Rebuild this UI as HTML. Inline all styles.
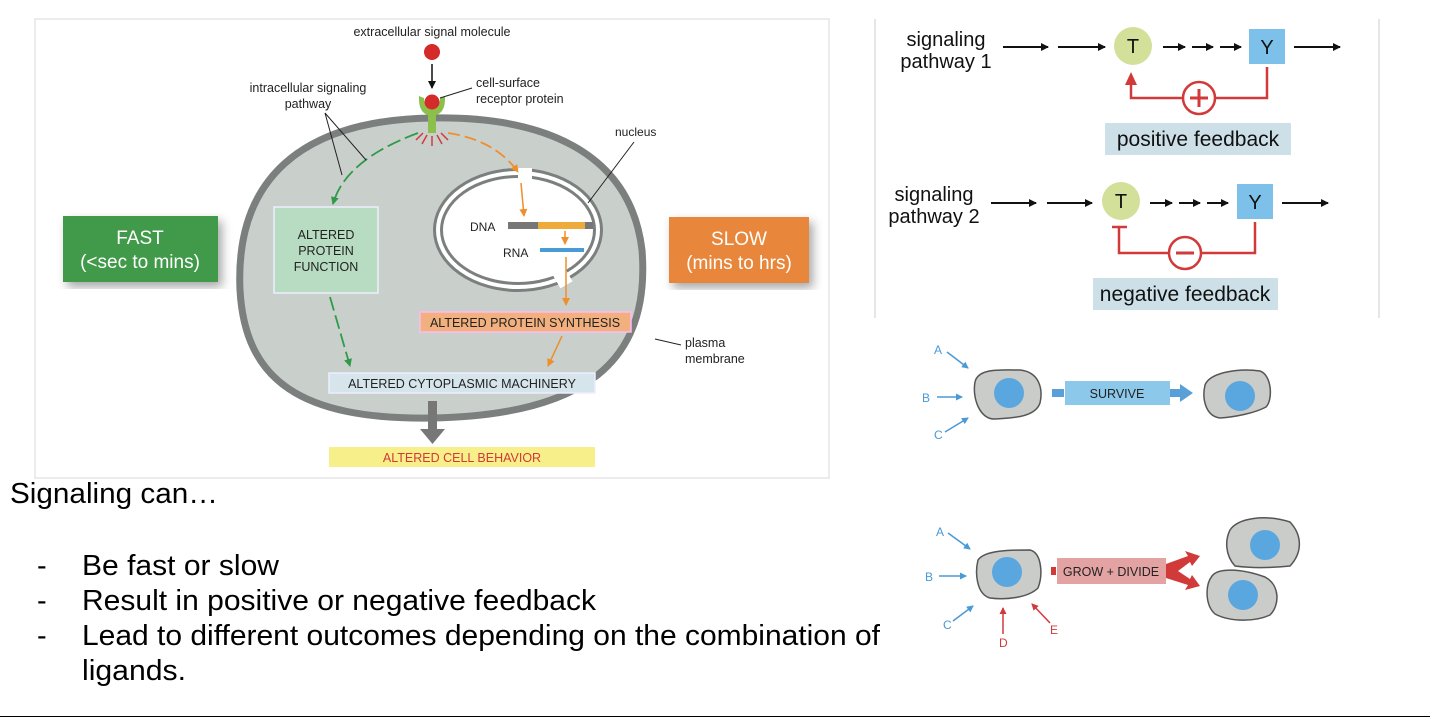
<!DOCTYPE html>
<html><head><meta charset="utf-8"><style>
body{margin:0;width:1430px;height:718px;background:#fff;overflow:hidden;font-family:"Liberation Sans",sans-serif}
svg{position:absolute;left:0;top:0}
</style></head><body>
<svg width="1430" height="718" viewBox="0 0 1430 718" font-family="Liberation Sans, sans-serif">
<defs>
<marker id="ab" markerWidth="8" markerHeight="8" refX="7" refY="4" orient="auto" markerUnits="userSpaceOnUse"><path d="M0,0L8,4L0,8z" fill="#111"/></marker>
<marker id="ag" markerWidth="8" markerHeight="8" refX="7" refY="4" orient="auto" markerUnits="userSpaceOnUse"><path d="M0,0L8,4L0,8z" fill="#2f9a48"/></marker>
<marker id="ao" markerWidth="8" markerHeight="8" refX="7" refY="4" orient="auto" markerUnits="userSpaceOnUse"><path d="M0,0L8,4L0,8z" fill="#ee8f2e"/></marker>
<marker id="abl" markerWidth="7" markerHeight="7" refX="6" refY="3.5" orient="auto" markerUnits="userSpaceOnUse"><path d="M0,0L7,3.5L0,7z" fill="#4a9ad6"/></marker>
<marker id="ar" markerWidth="7" markerHeight="7" refX="6" refY="3.5" orient="auto" markerUnits="userSpaceOnUse"><path d="M0,0L7,3.5L0,7z" fill="#d23a3a"/></marker>
<filter id="sh"><feDropShadow dx="4" dy="5" stdDeviation="5" flood-color="#000" flood-opacity="0.35"/></filter>
</defs>
<rect x="35" y="19" width="794" height="459" fill="none" stroke="#d8d8d8"/>
<path d="M432,118 C540,116 630,150 642,250 C650,350 600,415 432,418 C300,420 245,380 240,290 C235,180 300,120 432,118 Z" fill="#c9d0cc" stroke="#7b7f7e" stroke-width="7"/>
<ellipse cx="518" cy="230" rx="80" ry="57" fill="#fff"/>
<ellipse cx="518" cy="230" rx="80" ry="57" fill="none" stroke="#7b7f7e" stroke-width="10"/>
<ellipse cx="518" cy="230" rx="80" ry="57" fill="none" stroke="#fff" stroke-width="4"/>
<rect x="518" y="168" width="14" height="12" fill="#fff"/>
<rect x="555" y="268" width="14" height="18" fill="#fff" transform="rotate(-30 562 277)"/>
<line x1="588" y1="203" x2="634" y2="142" stroke="#222"/>
<text x="615" y="136" font-size="12" fill="#222">nucleus</text>
<text x="470" y="231" font-size="12" fill="#222">DNA</text>
<rect x="508" y="222" width="85" height="7" fill="#777"/><rect x="538" y="222" width="47" height="7" fill="#eeaa3a"/>
<text x="503" y="257" font-size="12" fill="#222">RNA</text>
<rect x="540" y="248" width="44" height="4" fill="#4a9ad6"/>
<line x1="565" y1="231" x2="565" y2="244" stroke="#ee8f2e" stroke-width="1.5" marker-end="url(#ao)"/>
<line x1="521" y1="183" x2="524" y2="216" stroke="#ee8f2e" stroke-width="1.5" marker-end="url(#ao)"/>
<line x1="566" y1="257" x2="566" y2="305" stroke="#ee8f2e" stroke-width="1.5" marker-end="url(#ao)"/>
<line x1="562" y1="336" x2="548" y2="366" stroke="#ee8f2e" stroke-width="1.5" marker-end="url(#ao)"/>
<path d="M448,133 Q495,140 518,172" fill="none" stroke="#ee8f2e" stroke-width="1.8" stroke-dasharray="12,5" marker-end="url(#ao)"/>
<path d="M418,133 Q345,160 333,204" fill="none" stroke="#2f9a48" stroke-width="1.8" stroke-dasharray="14,5" marker-end="url(#ag)"/>
<path d="M330,297 L350,366" fill="none" stroke="#2f9a48" stroke-width="1.8" stroke-dasharray="14,5" marker-end="url(#ag)"/>
<g stroke="#d23a3a" stroke-width="1.5"><line x1="432" y1="136" x2="432" y2="146"/><line x1="427" y1="135" x2="422" y2="144"/><line x1="437" y1="135" x2="442" y2="144"/><line x1="423" y1="133" x2="416" y2="140"/><line x1="441" y1="133" x2="448" y2="140"/></g>
<rect x="428" y="108" width="8" height="25" fill="#8cc04a"/>
<path d="M419,96 Q418,115 432,116 Q446,115 445,96 L440,98 Q440,108 432,108 Q424,108 424,98 Z" fill="#8cc04a"/>
<circle cx="432" cy="102" r="7.5" fill="#d42a2a"/>
<circle cx="432" cy="52" r="8" fill="#d42a2a"/>
<line x1="432" y1="64" x2="432" y2="88" stroke="#111" stroke-width="1.5" marker-end="url(#ab)"/>
<text x="432" y="36" font-size="12.5" fill="#222" text-anchor="middle">extracellular signal molecule</text>
<line x1="440" y1="98" x2="472" y2="88" stroke="#222"/>
<text x="476" y="87" font-size="12.5" fill="#222">cell-surface</text>
<text x="476" y="103" font-size="12.5" fill="#222">receptor protein</text>
<text x="308" y="92" font-size="12.5" fill="#222" text-anchor="middle">intracellular signaling</text>
<text x="308" y="108" font-size="12.5" fill="#222" text-anchor="middle">pathway</text>
<line x1="325" y1="113" x2="366" y2="160" stroke="#222"/><line x1="325" y1="113" x2="342" y2="175" stroke="#222"/>
<line x1="655" y1="339" x2="681" y2="345" stroke="#222"/>
<text x="685" y="347" font-size="12.5" fill="#222">plasma</text>
<text x="685" y="363" font-size="12.5" fill="#222">membrane</text>
<rect x="274" y="207" width="104" height="86" fill="#b7dcc2" stroke="#eef" stroke-width="1.5"/>
<text font-size="12.5" fill="#222" text-anchor="middle"><tspan x="326" y="239">ALTERED</tspan><tspan x="326" y="255">PROTEIN</tspan><tspan x="326" y="271">FUNCTION</tspan></text>
<rect x="420" y="312" width="211" height="20" fill="#f2b07e" stroke="#fbe" stroke-width="1.5"/>
<text x="525" y="327" font-size="12.5" fill="#222" text-anchor="middle">ALTERED PROTEIN SYNTHESIS</text>
<rect x="329" y="373" width="266" height="20" fill="#d6e4ec" stroke="#eef" stroke-width="1.5"/>
<text x="462" y="388" font-size="12.5" fill="#222" text-anchor="middle">ALTERED CYTOPLASMIC MACHINERY</text>
<rect x="428" y="401" width="9" height="30" fill="#777"/><path d="M420,429 L445,429 L432.5,444 Z" fill="#777"/>
<rect x="329" y="447" width="266" height="20" fill="#f7ef8a"/>
<text x="462" y="462" font-size="12.5" fill="#d23a3a" text-anchor="middle">ALTERED CELL BEHAVIOR</text>
<rect x="63" y="216" width="155" height="66" fill="#3f9a4a" filter="url(#sh)"/>
<text x="140" y="244" font-size="19" fill="#fff" text-anchor="middle">FAST</text>
<text x="140" y="268" font-size="19" fill="#fff" text-anchor="middle">(&lt;sec to mins)</text>
<rect x="669" y="217" width="140" height="66" fill="#e8873a" filter="url(#sh)"/>
<text x="739" y="245" font-size="19" fill="#fff" text-anchor="middle">SLOW</text>
<text x="739" y="269" font-size="19" fill="#fff" text-anchor="middle">(mins to hrs)</text>
<line x1="875" y1="19" x2="875" y2="318" stroke="#ccc"/><line x1="1379" y1="19" x2="1379" y2="318" stroke="#ccc"/>
<g font-size="20" fill="#111">
<text x="946" y="46" text-anchor="middle">signaling</text><text x="946" y="68" text-anchor="middle">pathway 1</text>
<text x="934" y="201" text-anchor="middle">signaling</text><text x="934" y="223" text-anchor="middle">pathway 2</text>
</g>
<g stroke="#111" stroke-width="2" marker-end="url(#ab)">
<line x1="1003" y1="47" x2="1048" y2="47"/><line x1="1058" y1="47" x2="1105" y2="47"/>
<line x1="1163" y1="47" x2="1185" y2="47"/><line x1="1192" y1="47" x2="1213" y2="47"/><line x1="1220" y1="47" x2="1241" y2="47"/>
<line x1="1294" y1="47" x2="1340" y2="47"/>
<line x1="991" y1="203" x2="1036" y2="203"/><line x1="1047" y1="203" x2="1092" y2="203"/>
<line x1="1150" y1="203" x2="1172" y2="203"/><line x1="1179" y1="203" x2="1200" y2="203"/><line x1="1207" y1="203" x2="1228" y2="203"/>
<line x1="1282" y1="203" x2="1328" y2="203"/>
</g>
<circle cx="1133" cy="46" r="19" fill="#d2e09a"/><text x="1133" y="53" font-size="20" text-anchor="middle" fill="#111">T</text>
<rect x="1249" y="29" width="36" height="35" fill="#7dc1ea"/><text x="1267" y="54" font-size="20" text-anchor="middle" fill="#111">Y</text>
<circle cx="1121" cy="201" r="19" fill="#d2e09a"/><text x="1121" y="208" font-size="20" text-anchor="middle" fill="#111">T</text>
<rect x="1237" y="184" width="36" height="35" fill="#7dc1ea"/><text x="1255" y="209" font-size="20" text-anchor="middle" fill="#111">Y</text>
<g stroke="#d23a3a" stroke-width="2.5" fill="none">
<path d="M1267,67 L1267,98 L1131,98 L1131,84"/>
<path d="M1255,222 L1255,253 L1119,253 L1119,227"/><line x1="1112" y1="227" x2="1127" y2="227"/>
</g>
<path d="M1125,85 L1137,85 L1131,72 Z" fill="#d23a3a"/>
<circle cx="1199" cy="98" r="16" fill="#fff" stroke="#d23a3a" stroke-width="2.5"/>
<path d="M1190,98 H1208 M1199,89 V107" stroke="#d23a3a" stroke-width="3"/>
<circle cx="1185" cy="253" r="16" fill="#fff" stroke="#d23a3a" stroke-width="2.5"/>
<path d="M1176,253 H1194" stroke="#d23a3a" stroke-width="3"/>
<rect x="1105" y="123" width="186" height="32" fill="#cde0e8"/><text x="1198" y="146" font-size="21" text-anchor="middle" fill="#111">positive feedback</text>
<rect x="1093" y="278" width="185" height="32" fill="#cde0e8"/><text x="1185" y="301" font-size="21" text-anchor="middle" fill="#111">negative feedback</text>
<g fill="#c9ccc9" stroke="#555" stroke-width="1.5">
<path d="M975,382 C978,368 1000,370 1020,370 C1040,372 1043,390 1040,403 C1035,418 1010,418 995,419 C980,420 972,398 975,382 Z"/>
<path d="M1205,385 C1210,372 1240,368 1260,371 C1272,375 1273,400 1266,407 C1255,413 1235,417 1220,418 C1205,416 1202,398 1205,385 Z"/>
<path d="M978,560 C985,550 1010,550 1030,550 C1042,553 1043,575 1038,588 C1028,598 1005,600 990,598 C976,594 975,572 978,560 Z"/>
<path d="M1230,530 C1238,518 1265,514 1290,522 C1302,535 1303,552 1290,566 C1270,568 1250,568 1235,566 C1225,555 1225,540 1230,530 Z"/>
<path d="M1212,576 C1218,568 1240,568 1265,577 C1280,585 1280,605 1270,615 C1255,622 1230,622 1215,614 C1205,605 1205,585 1212,576 Z"/>
</g>
<g fill="#5aa7e0"><circle cx="1009" cy="393" r="15"/><circle cx="1240" cy="396" r="15"/><circle cx="1007" cy="572" r="15"/><circle cx="1265" cy="545" r="15"/><circle cx="1243" cy="595" r="15"/></g>
<rect x="1052" y="389" width="12" height="8" fill="#5aa0d8"/>
<rect x="1065" y="381" width="105" height="24" fill="#8cc8ea"/>
<text x="1117" y="398" font-size="12.5" text-anchor="middle" fill="#222">SURVIVE</text>
<rect x="1170" y="389" width="12" height="8" fill="#5aa0d8"/><path d="M1180,384 L1193,393 L1180,402 Z" fill="#5aa0d8"/>
<rect x="1051" y="567" width="5" height="8" fill="#d23a3a"/>
<rect x="1057" y="558" width="109" height="26" fill="#e4a3a3"/>
<text x="1111" y="576" font-size="12.5" text-anchor="middle" fill="#222">GROW + DIVIDE</text>
<path d="M1166,564 L1188,556 L1185,551 L1200,556 L1192,566 L1190,562 L1178,571 L1190,579 L1192,575 L1200,586 L1185,590 L1188,585 L1166,578 Z" fill="#d23a3a"/>
<g stroke="#4a9ad6" stroke-width="1.5" marker-end="url(#abl)">
<line x1="947" y1="352" x2="968" y2="368"/><line x1="937" y1="397" x2="962" y2="397"/><line x1="945" y1="432" x2="968" y2="418"/>
<line x1="948" y1="533" x2="970" y2="549"/><line x1="939" y1="576" x2="966" y2="576"/><line x1="953" y1="621" x2="973" y2="606"/>
</g>
<g stroke="#d23a3a" stroke-width="1.5" marker-end="url(#ar)"><line x1="1003" y1="634" x2="1003" y2="608"/><line x1="1050" y1="623" x2="1032" y2="604"/></g>
<g font-size="12" fill="#4a9ad6"><text x="934" y="354">A</text><text x="922" y="402">B</text><text x="934" y="439">C</text><text x="936" y="536">A</text><text x="925" y="581">B</text><text x="943" y="629">C</text></g>
<g font-size="12" fill="#d23a3a"><text x="999" y="647">D</text><text x="1050" y="634">E</text></g>
<text x="10" y="503" font-size="29" fill="#000" textLength="208" lengthAdjust="spacingAndGlyphs">Signaling can…</text>
<g font-size="29" fill="#000">
<text x="37" y="575">-</text><text x="82" y="575" textLength="197" lengthAdjust="spacingAndGlyphs">Be fast or slow</text>
<text x="37" y="610">-</text><text x="82" y="610" textLength="514" lengthAdjust="spacingAndGlyphs">Result in positive or negative feedback</text>
<text x="37" y="645">-</text><text x="82" y="645" textLength="798" lengthAdjust="spacingAndGlyphs">Lead to different outcomes depending on the combination of</text>
<text x="82" y="680" textLength="104" lengthAdjust="spacingAndGlyphs">ligands.</text>
</g>
<line x1="0" y1="716.5" x2="1430" y2="716.5" stroke="#000"/>
</svg>
</body></html>
